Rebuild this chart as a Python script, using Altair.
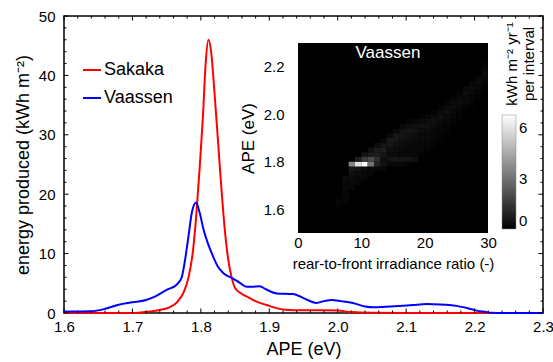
import altair as alt
import pandas as pd
import numpy as np

FONT = "Liberation Sans"

# ---------------- main curves ----------------
sakaka_E = [1.600, 1.705, 1.720, 1.740, 1.755, 1.765, 1.775, 1.782, 1.788, 1.793, 1.798,
            1.803, 1.807, 1.811, 1.815, 1.820, 1.825, 1.830, 1.835, 1.840, 1.845,
            1.850, 1.860, 1.870, 1.880, 1.900, 1.920, 1.950, 1.980, 2.000, 2.020,
            2.050, 2.100, 2.300]
sakaka_v = [0.0, 0.0, 0.2, 0.5, 1.0, 1.8, 3.5, 6.0, 10.0, 16.0, 24.0,
            33.0, 42.0, 46.0, 44.0, 37.0, 29.0, 21.0, 14.0, 9.0, 6.0,
            4.2, 3.2, 2.6, 2.0, 1.2, 0.6, 0.45, 0.45, 0.4, 0.15,
            0.03, 0.0, 0.0]

vaassen_E = [1.600, 1.640, 1.660, 1.680, 1.700, 1.720, 1.735, 1.750, 1.765, 1.772,
             1.777, 1.782, 1.787, 1.793, 1.798, 1.804, 1.810, 1.818, 1.825, 1.833,
             1.847, 1.858, 1.867, 1.875, 1.886, 1.895, 1.911, 1.935, 1.950, 1.969,
             1.980, 1.991, 2.005, 2.022, 2.040, 2.052, 2.070, 2.090, 2.110, 2.130,
             2.150, 2.174, 2.190, 2.203, 2.215, 2.225, 2.240, 2.300]
vaassen_v = [0.25, 0.3, 0.7, 1.4, 1.8, 2.2, 2.9, 3.9, 4.8, 6.0,
             9.0, 13.0, 17.0, 18.6, 17.0, 14.0, 11.8, 9.5, 7.8, 6.7,
             5.8, 5.0, 4.4, 4.4, 4.5, 4.0, 3.3, 3.2, 2.5, 1.7,
             2.0, 2.2, 2.0, 1.7, 1.1, 0.96, 1.05, 1.18, 1.35, 1.5,
             1.45, 1.2, 0.8, 0.4, 0.2, 0.05, 0.0, 0.0]

series_names = ["Sakaka", "Vaassen"]
series_colors = ["#ff0000", "#0000ff"]

# tick values
x_major = [1.6, 1.7, 1.8, 1.9, 2.0, 2.1, 2.2, 2.3]
x_minor = [round(1.6 + 0.02 * i, 2) for i in range(36) if i % 5 != 0]
y_major = [0, 10, 20, 30, 40, 50]
y_minor = [v for v in range(0, 51, 2) if v % 10 != 0]

# ---------------- inset heatmap (Vaassen) ----------------
heat_r = [6, 7, 8, 9, 10, 11, 12, 13, 14, 15, 16, 17, 18, 19, 20, 21, 22, 23, 24, 25, 26, 27, 28, 29]
heat_e0 = [1.60, 1.62, 1.68, 1.70, 1.72, 1.74, 1.76, 1.76, 1.78, 1.78, 1.78, 1.78,
           1.80, 1.82, 1.84, 1.86, 1.88, 1.90, 1.94, 1.96, 2.00, 2.02, 2.06, 2.10]
heat_vals = [
    [0.1, 0.15, 0.1],
    [0.15, 0.15, 0.2, 0.25, 0.2, 0.3],
    [0.2, 0.25, 0.3, 0.4, 0.6, 3.5],
    [0.2, 0.25, 0.3, 0.5, 6.0, 0.8],
    [0.2, 0.25, 0.3, 6.8, 1.6, 0.5],
    [0.2, 0.25, 3.0, 2.0, 0.7, 0.4],
    [0.2, 0.9, 1.2, 0.8, 0.7, 0.3],
    [0.2, 0.5, 0.4, 0.6, 0.8, 0.6, 0.25],
    [0.25, 0.5, 0.35, 0.4, 0.6, 0.7, 0.25],
    [0.2, 0.6, 0.3, 0.35, 0.4, 0.55, 0.65, 0.25],
    [0.2, 0.6, 0.25, 0.3, 0.35, 0.45, 0.55, 0.5, 0.2],
    [0.1, 0.55, 0.25, 0.25, 0.3, 0.35, 0.45, 0.55, 0.35, 0.1],
    [0.4, 0.2, 0.2, 0.25, 0.3, 0.35, 0.5, 0.45, 0.2],
    [0.1, 0.2, 0.2, 0.25, 0.3, 0.35, 0.45, 0.3, 0.1],
    [0.1, 0.15, 0.2, 0.25, 0.3, 0.45, 0.35, 0.15],
    [0.1, 0.1, 0.2, 0.25, 0.3, 0.45, 0.3, 0.1],
    [0.1, 0.1, 0.15, 0.2, 0.3, 0.4, 0.3, 0.1],
    [0.05, 0.1, 0.1, 0.2, 0.25, 0.4, 0.25, 0.1],
    [0.05, 0.1, 0.2, 0.25, 0.35, 0.25, 0.1],
    [0.05, 0.1, 0.1, 0.2, 0.35, 0.25, 0.1],
    [0.05, 0.1, 0.2, 0.25, 0.35, 0.2],
    [0.05, 0.1, 0.15, 0.25, 0.3, 0.2],
    [0.05, 0.1, 0.2, 0.3, 0.2],
    [0.05, 0.1, 0.2, 0.3, 0.2, 0.1],
]
heat_dr = 1.0
heat_de = 0.02
inset_x_domain = [0, 30]
inset_y_domain = [1.5, 2.3]
inset_x_ticks = [0, 10, 20, 30]
inset_y_ticks = [1.6, 1.8, 2.0, 2.2]
color_max = 6.8
colorbar_ticks = [0, 3, 6]

# ---------------- layout ----------------
W, H = 479, 297
PAD_L, PAD_T = 64, 16
inset_px_x = [298 - PAD_L, 488 - PAD_L]
inset_px_y = [233 - PAD_T, 43 - PAD_T]

# ---------------- data frames ----------------
lines_df = pd.concat([
    pd.DataFrame({"E": sakaka_E, "v": sakaka_v, "series": "Sakaka"}),
    pd.DataFrame({"E": vaassen_E, "v": vaassen_v, "series": "Vaassen"}),
])
rows = []
for r, e0, vals in zip(heat_r, heat_e0, heat_vals):
    for k, val in enumerate(vals):
        lo = round(e0 + k * heat_de, 3)
        rows.append({"r0": r, "r1": r + heat_dr, "e0": lo, "e1": round(lo + heat_de, 3), "val": val})
heat_df = pd.DataFrame(rows)
bg_df = pd.DataFrame({"r0": [inset_x_domain[0]], "r1": [inset_x_domain[1]],
                      "e0": [inset_y_domain[0]], "e1": [inset_y_domain[1]]})
lab_df = pd.DataFrame({"r0": [14.2], "e0": [2.257], "t": ["Vaassen"]})

# ---------------- main scales / axes ----------------
xs = alt.Scale(domain=[1.6, 2.3], nice=False, zero=False)
ys = alt.Scale(domain=[0, 50], nice=False, zero=False)
xaxis = alt.Axis(values=x_major, format=".1f", ticks=False, domain=False, grid=False,
                 labelFontSize=15, labelPadding=6, labelFlush=False, labelOverlap=False,
                 labelColor="black", title="APE (eV)", titleFontSize=18,
                 titleFontWeight="normal", titleColor="black", titlePadding=6, orient="bottom")
yaxis = alt.Axis(values=y_major, format="d", ticks=False, domain=False, grid=False,
                 labelFontSize=15, labelPadding=9, labelColor="black",
                 title="energy produced (kWh m⁻²)", titleFontSize=18,
                 titleFontWeight="normal", titleColor="black", titlePadding=6, orient="left")

lines = alt.Chart(lines_df).mark_line(strokeWidth=2, interpolate="monotone").encode(
    x=alt.X("E:Q", scale=xs, axis=xaxis),
    y=alt.Y("v:Q", scale=ys, axis=yaxis),
    color=alt.Color("series:N",
                    scale=alt.Scale(domain=series_names, range=series_colors),
                    legend=alt.Legend(orient="none", legendX=18, legendY=44, title=None,
                                      symbolType="stroke", symbolSize=324, symbolStrokeWidth=2,
                                      labelFontSize=18, labelFont=FONT, labelColor="black",
                                      labelOffset=2, rowPadding=9, padding=0)),
)


def xticks(vals, y0, y1):
    return alt.Chart(pd.DataFrame({"E": vals})).mark_rule(color="black", strokeWidth=1).encode(
        x=alt.X("E:Q", scale=xs, axis=xaxis), y=alt.value(y0), y2=alt.value(y1))


def yticks(vals, x0, x1):
    return alt.Chart(pd.DataFrame({"v": vals})).mark_rule(color="black", strokeWidth=1).encode(
        y=alt.Y("v:Q", scale=ys, axis=yaxis), x=alt.value(x0), x2=alt.value(x1))


ticks = [
    xticks(x_major, H, H - 4.5), xticks(x_minor, H, H - 2.5),
    xticks(x_major, 0, 4.5), xticks(x_minor, 0, 2.5),
    yticks(y_major, 0, 4.5), yticks(y_minor, 0, 2.5),
    yticks(y_major, W, W - 4.5), yticks(y_minor, W, W - 2.5),
]

cb_title1 = alt.Chart(pd.DataFrame({"t": ["kWh m⁻² yr⁻¹"]})).mark_text(
    angle=270, fontSize=15, font=FONT, color="black", align="center", baseline="middle"
).encode(text="t:N", x=alt.value(512 - PAD_L), y=alt.value(64 - PAD_T))
cb_title2 = alt.Chart(pd.DataFrame({"t": ["per interval"]})).mark_text(
    angle=270, fontSize=15, font=FONT, color="black", align="center", baseline="middle"
).encode(text="t:N", x=alt.value(529 - PAD_L), y=alt.value(64 - PAD_T))

main = alt.layer(lines, *ticks, cb_title1, cb_title2)

# ---------------- inset ----------------
ixs = alt.Scale(domain=inset_x_domain, range=inset_px_x, nice=False, zero=False)
iys = alt.Scale(domain=inset_y_domain, range=inset_px_y, nice=False, zero=False)
ixaxis = alt.Axis(values=inset_x_ticks, format="d", ticks=False, domain=False, grid=False,
                  orient="bottom", offset=-(313 - 233), labelFontSize=15, labelPadding=2,
                  labelFlush=False, labelColor="black", title="rear-to-front irradiance ratio (-)",
                  titleFontSize=15, titleFontWeight="normal", titleColor="black", titlePadding=6)
iyaxis = alt.Axis(values=inset_y_ticks, format=".1f", ticks=False, domain=False, grid=False,
                  orient="left", offset=-(298 - PAD_L), labelFontSize=15, labelPadding=14,
                  labelColor="black", title="APE (eV)", titleFontSize=17,
                  titleFontWeight="normal", titleColor="black", titlePadding=6)

bg = alt.Chart(bg_df).mark_rect(color="black").encode(
    x=alt.X("r0:Q", scale=ixs, axis=ixaxis), x2="r1:Q",
    y=alt.Y("e0:Q", scale=iys, axis=iyaxis), y2="e1:Q")
heat = alt.Chart(heat_df).mark_rect().encode(
    x=alt.X("r0:Q", scale=ixs, axis=ixaxis), x2="r1:Q",
    y=alt.Y("e0:Q", scale=iys, axis=iyaxis), y2="e1:Q",
    color=alt.Color("val:Q", scale=alt.Scale(domain=[0, color_max], range=["black", "white"],
                                             interpolate="rgb"),
                    legend=alt.Legend(orient="none", legendX=502 - PAD_L, legendY=115 - PAD_T,
                                      direction="vertical", title=None, values=colorbar_ticks,
                                      gradientLength=114, gradientThickness=14,
                                      gradientStrokeColor="#888888", gradientStrokeWidth=0.5,
                                      labelFontSize=15, labelFont=FONT, labelColor="black",
                                      labelOffset=3, padding=0)))
lab = alt.Chart(lab_df).mark_text(fontSize=17, font=FONT, color="white").encode(
    x=alt.X("r0:Q", scale=ixs, axis=ixaxis), y=alt.Y("e0:Q", scale=iys, axis=iyaxis), text="t:N")

inset = alt.layer(bg, heat, lab)

chart = alt.layer(inset, main).resolve_scale(
    x="independent", y="independent", color="independent"
).properties(
    width=W, height=H,
    autosize=alt.AutoSizeParams(type="none"),
    padding={"left": PAD_L, "top": PAD_T, "right": 553 - PAD_L - W, "bottom": 362 - PAD_T - H},
).configure_view(stroke="black", strokeWidth=1.5).configure_axis(
    labelFont=FONT, titleFont=FONT
).configure_legend(labelFont=FONT).configure_text(font=FONT)

chart.save("out.html", embed_options={"renderer": "svg", "actions": False})
